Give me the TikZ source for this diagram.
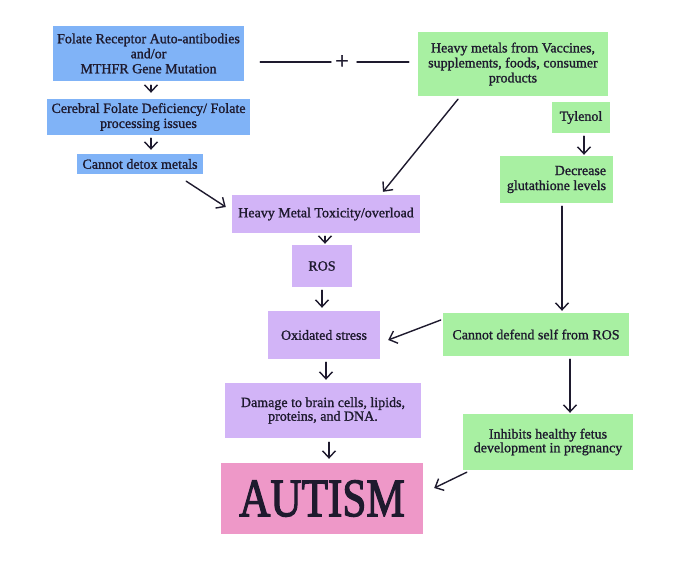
\documentclass[tikz,border=0pt]{standalone}
\usepackage{fontspec}
\setmainfont{Liberation Serif}[FakeBold=1.2]
\newfontfamily\autfont{Liberation Serif}[FakeBold=2.5]
\usetikzlibrary{arrows.meta,calc}
\definecolor{bluebox}{HTML}{80B3F7}
\definecolor{greenbox}{HTML}{A8F0A2}
\definecolor{purplebox}{HTML}{D2B4F7}
\definecolor{pinkbox}{HTML}{EE98C8}
\definecolor{ink}{HTML}{1E1A2E}
\begin{document}
\begin{tikzpicture}[x=1pt,y=-1pt,
  box/.style={inner sep=0pt, align=center, text=ink, font=\fontsize{14}{15}\selectfont},
  bbox/.style={box, fill=bluebox},
  gbox/.style={box, fill=greenbox},
  pbox/.style={box, fill=purplebox},
  tight/.style={font=\fontsize{14}{11}\selectfont},
  arr/.style={-{Straight Barb[length=7pt,width=13pt]}, line width=1.4pt, line cap=round, draw=ink},
  ln/.style={line width=1.4pt, line cap=round, draw=ink}]
\path[use as bounding box, fill=white] (0,0) rectangle (680,567);

% blue column
\node[bbox, minimum width=191pt, minimum height=55pt] (b1) at (148.5,53.5) {Folate Receptor Auto-antibodies\\and/or\\MTHFR Gene Mutation};
\node[bbox, minimum width=203pt, minimum height=36pt] (b2) at (148.5,117) {Cerebral Folate Deficiency/ Folate\\processing issues};
\node[bbox, minimum width=126pt, minimum height=20pt] (b3) at (140,164) {Cannot detox metals};

% green
\node[gbox, minimum width=190pt, minimum height=64pt] (g1) at (513,64) {Heavy metals from Vaccines,\\supplements, foods, consumer\\products};
\node[gbox, minimum width=58pt, minimum height=31pt] (g2) at (581,117.5) {Tylenol};
\node[gbox, minimum width=113pt, minimum height=47pt, align=right] (g3) at (556.5,179.5) {Decrease\\glutathione levels};
\node[gbox, minimum width=186pt, minimum height=43pt] (g4) at (536,334.5) {Cannot defend self from ROS};
\node[gbox, tight, minimum width=170pt, minimum height=56pt] (g5) at (548,442) {Inhibits healthy fetus\\development in pregnancy};

% purple
\node[pbox, minimum width=188pt, minimum height=38pt] (p1) at (326,214) {Heavy Metal Toxicity/overload};
\node[pbox, minimum width=60pt, minimum height=42pt] (p2) at (322,266) {ROS};
\node[pbox, minimum width=112pt, minimum height=48pt] (p3) at (324,335) {Oxidated stress};
\node[pbox, tight, minimum width=196pt, minimum height=55pt] (p4) at (323,410.5) {Damage to brain cells, lipids,\\proteins, and DNA.};

% autism
\node[box, fill=pinkbox, minimum width=202pt, minimum height=71pt] (aut) at (322,498.5)
  {\scalebox{0.8}[1]{\autfont\fontsize{54}{54}\selectfont AUTISM}};

% plus
\node[text=ink, inner sep=0pt, font=\fontsize{24}{24}\selectfont] (plus) at (342,62) {+};
\draw[ln] ($(b1.east)+(16,8.5)$) -- ($(plus)+(-11,0)$);
\draw[ln] ($(plus)+(15,0)$) -- ($(g1.west)+(-9,-2)$);

% arrows
\draw[arr] ($(b1.south)+(2.5,4)$) -- ($(b2.north)+(2.5,-6)$);
\draw[arr] ($(b2.south)+(2.5,3)$) -- ($(b3.north)+(11,-4)$);
\draw[arr] ($(b3.south east)+(-17,7)$) -- ($(p1.west)+(-6,-7)$);
\draw[arr] ($(g1.south)+(-55,3)$) -- ($(p1.north)+(57,-3)$);
\draw[arr] ($(g2.south)+(3,3)$) -- ($(g3.north)+(27.5,-1)$);
\draw[arr] ($(g3.south)+(5.5,3)$) -- ($(g4.north)+(26,-2)$);
\draw[arr] ($(g4.west)+(-2,-14.5)$) -- ($(p3.east)+(8,5)$);
\draw[arr] ($(g4.south)+(34,3)$) -- ($(g5.north)+(22,-1)$);
\draw[arr] ($(g5.south west)+(4,2)$) -- ($(aut.east)+(11,-10.5)$);
\draw[arr] ($(p1.south)+(-1,3)$) -- ($(p2.north)+(3,-1)$);
\draw[arr] ($(p2.south)+(0,3)$) -- ($(p3.north)+(-2,-3)$);
\draw[arr] ($(p3.south)+(2,3)$) -- ($(p4.north)+(3,-3)$);
\draw[arr] ($(p4.south)+(6,4)$) -- ($(aut.north)+(7,-4)$);
\end{tikzpicture}
\end{document}
